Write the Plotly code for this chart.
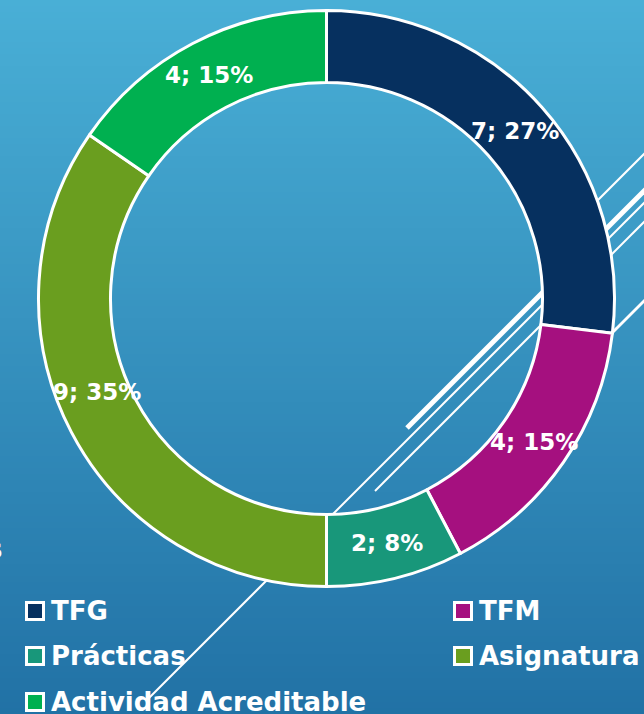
import math
import plotly.graph_objects as go

# datos del gráfico
categorias = ["TFG", "TFM", "Prácticas", "Asignatura", "Actividad Acreditable"]
valores = [7, 4, 2, 9, 4]
colores = ["#06305F", "#A5107F", "#18977A", "#6A9E1F", "#00B050"]

W, H = 644, 714
CX, CY, R = 326.5, 298.5, 288      # centro y radio del anillo (px)
HOLE = 0.75
FUENTE = "DejaVu Sans"


def px(x):
    return x / W


def py(y):
    return 1 - y / H


def mezcla(c1, c2, t):
    a = [int(c1[i:i + 2], 16) for i in (1, 3, 5)]
    b = [int(c2[i:i + 2], 16) for i in (1, 3, 5)]
    return "#" + "".join("%02x" % round(a[k] + (b[k] - a[k]) * t) for k in range(3))


shapes = []

# fondo degradado de la diapositiva
paso = 6
for y in range(0, H, paso):
    shapes.append(dict(type="rect", xref="paper", yref="paper", layer="below",
                       x0=0, x1=1, y0=py(y + paso + 1), y1=py(y),
                       fillcolor=mezcla("#49AFD6", "#2171A5", y / H), line_width=0))

# líneas decorativas (y = -x + c)
decoracion = [(798, 560, 2), (835, 407, 5), (847, 147, 2), (866, 375, 2), (945, 590, 3)]
for c, x0, ancho in decoracion:
    shapes.append(dict(type="line", xref="paper", yref="paper", layer="below",
                       x0=px(x0), y0=py(c - x0), x1=px(670), y1=py(c - 670),
                       line=dict(color="white", width=ancho)))

fig = go.Figure(go.Pie(
    labels=categorias, values=valores, sort=False, direction="clockwise",
    rotation=0, hole=HOLE, textinfo="none", hoverinfo="label+value+percent",
    marker=dict(colors=colores, line=dict(color="white", width=3)),
    domain=dict(x=[px(CX - R), px(CX + R)], y=[py(CY + R), py(CY - R)]),
    showlegend=False,
))

# etiquetas de datos en el centro del anillo
annotations = []
total = sum(valores)
ajuste = {"Asignatura": (-6, -24)}
acum = 0
r_med = R * (1 + HOLE) / 2
for cat, v in zip(categorias, valores):
    ang = 2 * math.pi * (acum + v / 2) / total
    acum += v
    dx, dy = ajuste.get(cat, (0, 0))
    x = CX + r_med * math.sin(ang) + dx
    y = CY - r_med * math.cos(ang) + dy
    annotations.append(dict(x=px(x), y=py(y), xref="paper", yref="paper",
                            xanchor="center", yanchor="middle",
                            text="<b>%d; %d%%</b>" % (v, round(100 * v / total)),
                            showarrow=False, font=dict(family=FUENTE, size=23, color="white")))

# leyenda manual en dos columnas
col_x = [35, 463]
fila_y = [611, 656, 702]
for i, (cat, col) in enumerate(zip(categorias, colores)):
    x, y = col_x[i % 2], fila_y[i // 2]
    shapes.append(dict(type="rect", xref="paper", yref="paper",
                       x0=px(x - 8.5), x1=px(x + 8.5), y0=py(y + 8.5), y1=py(y - 8.5),
                       fillcolor=col, line=dict(color="white", width=3)))
    annotations.append(dict(x=px(x + 14), y=py(y), xref="paper", yref="paper",
                            xanchor="left", yanchor="middle", showarrow=False,
                            text="<b>%s</b>" % cat,
                            font=dict(family=FUENTE, size=26, color="white")))

# resto del título cortado a la izquierda
annotations.append(dict(x=px(4), y=py(549), xref="paper", yref="paper",
                        xanchor="right", yanchor="middle",
                        showarrow=False, text="<b>s</b>",
                        font=dict(family=FUENTE, size=26, color="white")))

fig.update_layout(
    width=W, height=H, margin=dict(l=0, r=0, t=0, b=0),
    paper_bgcolor="#3591C0", plot_bgcolor="rgba(0,0,0,0)",
    shapes=shapes, annotations=annotations,
)

# quitar el margen por defecto del body para que el gráfico ocupe toda la ventana
fig.write_html("out.html", config={"displayModeBar": False},
               post_script="document.body.style.margin='0';document.body.style.overflow='hidden';")
